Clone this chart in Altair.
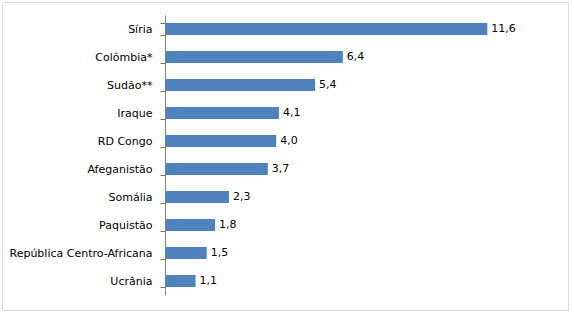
import altair as alt
import pandas as pd

countries = ["Síria", "Colômbia*", "Sudão**", "Iraque", "RD Congo", "Afeganistão",
             "Somália", "Paquistão", "República Centro-Africana", "Ucrânia"]
values = [11.6, 6.4, 5.4, 4.1, 4.0, 3.7, 2.3, 1.8, 1.5, 1.1]

df = pd.DataFrame({
    "country": countries,
    "value": values,
    "label": [f"{v:.1f}".replace(".", ",") for v in values],
})

FONT = "DejaVu Sans"
FS = 11
x = alt.X("value:Q", scale=alt.Scale(domain=[0, 14], range=[163, 552], nice=False, zero=True), axis=None)
y = alt.Y("country:N", sort=countries,
          scale=alt.Scale(range=[13, 293], paddingInner=0.57, paddingOuter=0.285),
          axis=alt.Axis(title=None, offset=-163, ticks=True, tickBand="extent", tickSize=5,
                        tickWidth=1, tickOpacity=1,
                        domainColor="#868686", tickColor="#707070",
                        labelFont=FONT, labelFontSize=FS, labelColor="#000000",
                        labelPadding=8))

bars = alt.Chart(df).mark_bar(color="#4F81BD").encode(x=x, y=y)
text = alt.Chart(df).mark_text(align="left", dx=4, font=FONT, fontSize=FS, color="#000000").encode(
    x=x, y=y, text="label:N")

chart = (bars + text).properties(
    width=566, height=308, padding={"left": 2, "top": 2, "right": 6, "bottom": 5},
    autosize=alt.AutoSizeParams(type="none"),
).configure_view(stroke="#868686", strokeWidth=1).configure(background="white")

chart.save("out.html", embed_options={"renderer": "svg", "actions": False})
